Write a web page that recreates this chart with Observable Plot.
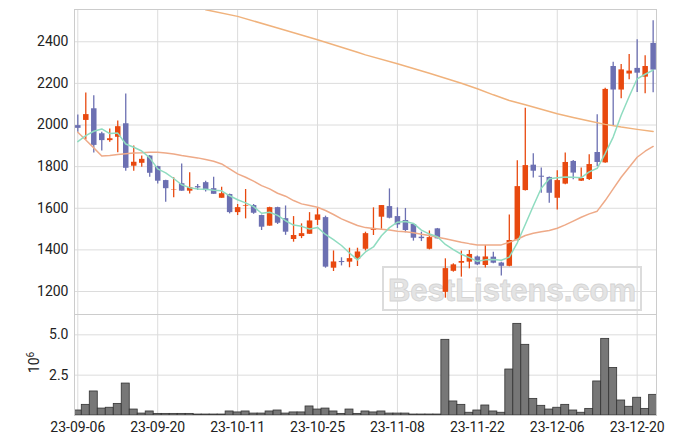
<!DOCTYPE html>
<html><head><meta charset="utf-8">
<script src="https://cdn.jsdelivr.net/npm/d3@7"></script>
<script src="https://cdn.jsdelivr.net/npm/@observablehq/plot@0.6"></script>
<style>
body{margin:0;background:#fff;}
#chart{position:relative;width:675px;height:444px;}
#chart svg{display:block;}
</style></head><body><div id="chart"></div>
<script>
// ---- data (trading-day index 0..72) ----
const open  = [1997,2022,2078,1958,1925,1941,2006,1802,1816,1851,1800,1733,1688,1718,1682,1704,1723,1694,1648,1666,1579,1610,1613,1565,1514,1603,1550,1450,1464,1475,1542,1555,1312,1344,1341,1355,1403,1494,1557,1608,1560,1541,1522,1461,1403,1501,1196,1297,1336,1341,1366,1325,1365,1337,1321,1445,1685,1807,1754,1748,1648,1716,1825,1730,1738,1868,1818,2281,2168,2245,2272,2230,2392];
const high  = [2048,2154,2141,1965,1981,2019,2149,1899,1851,1854,1802,1735,1746,1813,1770,1714,1730,1749,1701,1668,1618,1690,1618,1567,1605,1605,1611,1560,1525,1579,1598,1562,1395,1362,1408,1408,1485,1602,1613,1693,1602,1599,1525,1485,1491,1503,1357,1333,1394,1397,1371,1421,1389,1340,1568,1828,2081,1862,1794,1750,1780,1866,1830,1794,1857,2049,2177,2301,2291,2339,2410,2333,2501];
const low   = [1965,1928,1866,1875,1917,1867,1778,1778,1797,1749,1717,1629,1650,1682,1669,1685,1678,1667,1648,1573,1565,1549,1571,1493,1514,1522,1470,1437,1454,1475,1517,1312,1296,1323,1314,1320,1395,1469,1499,1549,1503,1482,1442,1440,1400,1453,1168,1293,1269,1309,1325,1313,1333,1275,1319,1443,1683,1745,1672,1624,1592,1713,1737,1728,1733,1801,1816,1993,2126,2217,2156,2150,2155];
const close = [1984,2050,1902,1925,1934,1992,1792,1821,1835,1768,1730,1694,1690,1682,1699,1698,1685,1667,1670,1579,1603,1613,1576,1509,1603,1528,1485,1469,1478,1539,1568,1317,1342,1339,1358,1390,1478,1503,1613,1552,1520,1493,1456,1454,1459,1453,1310,1328,1344,1378,1328,1366,1336,1321,1445,1704,1805,1778,1749,1672,1733,1820,1769,1743,1810,1820,2171,2168,2265,2259,2249,2281,2264];
const volumeM = [0.31,0.66,1.49,0.43,0.48,0.72,1.98,0.37,0.12,0.25,0.10,0.10,0.10,0.10,0.10,0.06,0.06,0.06,0.06,0.25,0.19,0.25,0.12,0.12,0.25,0.31,0.12,0.19,0.19,0.56,0.37,0.43,0.25,0.10,0.37,0.10,0.25,0.19,0.25,0.12,0.12,0.12,0.06,0.06,0.06,0.06,4.69,0.87,0.66,0.17,0.31,0.62,0.25,0.17,2.85,5.68,4.38,1.03,0.60,0.37,0.48,0.66,0.31,0.17,0.41,2.11,4.75,2.95,0.93,0.54,1.10,0.41,1.28];
const ma5  = [1920,1949,1970,1981,1959,1961,1909,1893,1875,1842,1789,1770,1743,1713,1699,1693,1691,1686,1684,1660,1641,1626,1608,1576,1581,1566,1540,1519,1513,1500,1508,1474,1449,1421,1385,1352,1390,1414,1468,1507,1533,1536,1527,1495,1476,1463,1426,1401,1379,1363,1345,1352,1354,1350,1365,1434,1522,1611,1696,1742,1747,1750,1749,1747,1775,1792,1863,1942,2047,2137,2222,2244,2264];
const ma20 = [1965,1928,1890,1851,1853,1858,1862,1866,1867,1869,1869,1866,1861,1854,1848,1842,1834,1826,1813,1789,1765,1749,1730,1709,1693,1672,1658,1637,1621,1613,1605,1589,1570,1549,1533,1517,1507,1503,1499,1495,1490,1487,1482,1475,1469,1461,1453,1445,1437,1430,1424,1424,1424,1424,1437,1451,1469,1480,1487,1493,1504,1520,1538,1557,1573,1586,1637,1693,1749,1797,1845,1874,1897];
const maLongIdx = [16,20,25,30,35,36,40,44,48,50,52,54,56,58,60,62,64,66,68,70,72];
const maLong    = [2554,2522,2466,2410,2350,2337,2294,2249,2201,2174,2145,2118,2097,2076,2054,2036,2019,2003,1990,1979,1969];
const tickIdx    = [0,10,20,30,40,50,60,70];
const tickLabels = ["23-09-06","23-09-20","23-10-11","23-10-25","23-11-08","23-11-22","23-12-06","23-12-20"];
const priceTicks = [1200,1400,1600,1800,2000,2200,2400];
const volTicks   = [2.5,5.0];

// ---- styling ----
const RED = "#e8490f", BLUE = "#6c70b2", GREEN = "#8fdcc0", ORANGE1 = "#eeaa88", ORANGE2 = "#f0b27c";
const GRID = "#dcdcdc", FRAME = "#cccccc";
const xDomain = [-0.413, 72.42];
const fmtX = d => tickLabels[tickIdx.indexOf(d)];
const baseStyle = "background:transparent;font-family:Roboto,sans-serif;font-size:14px;color:#222;";

const candles = open.map((o, i) => ({i, open: o, high: high[i], low: low[i], close: close[i], up: close[i] >= o}));
const ups = candles.filter(d => d.up), downs = candles.filter(d => !d.up);
const ma5d = ma5.map((v, i) => ({i, v}));
const ma20d = ma20.map((v, i) => ({i, v}));
const maLd = maLong.map((v, k) => ({i: maLongIdx[k], v}));
const bars = volumeM.map((v, i) => ({i, v}));

function watermark() {
  const g = d3.create("svg:g");
  const x0 = 383, y0 = 267, w = 258, h = 43;
  g.append("rect").attr("x", x0).attr("y", y0).attr("width", w).attr("height", h)
    .attr("fill", "none").attr("stroke", "#dcdcdc").attr("stroke-width", 2);
  g.append("text").attr("x", x0 + w / 2).attr("y", y0 + 34)
    .attr("text-anchor", "middle").attr("font-family", "'Liberation Sans',Arial,sans-serif")
    .attr("font-weight", "bold").attr("font-size", 31)
    .attr("fill", "#e4e4e4").attr("stroke", "#d4d4d4").attr("stroke-width", 0.8)
    .text("BestListens.com");
  return g.node();
}

function expLabel(index, scales, values, dims) {
  const cy = (dims.marginTop + dims.height - dims.marginBottom) / 2 - 2;
  const t = d3.create("svg:text")
    .attr("transform", `translate(39,${cy}) rotate(-90)`)
    .attr("text-anchor", "middle").attr("fill", "#222").attr("font-size", 14);
  t.append("tspan").text("10");
  t.append("tspan").attr("dy", "-0.5em").attr("font-size", 10).text("6");
  return t.node();
}

const price = Plot.plot({
  width: 675, height: 314, marginTop: 9, marginBottom: 0, marginLeft: 74, marginRight: 19,
  style: baseStyle,
  x: {domain: xDomain, axis: null},
  y: {domain: [1089.5, 2555], ticks: priceTicks, tickSize: 0, tickPadding: 6, label: null, tickFormat: d => String(d)},
  marks: [
    Plot.ruleY(priceTicks, {stroke: GRID}),
    Plot.ruleX(tickIdx, {stroke: GRID}),
    watermark,
    Plot.ruleX(ups, {x: "i", y1: "low", y2: "high", stroke: RED, strokeWidth: 1.3}),
    Plot.ruleX(downs, {x: "i", y1: "low", y2: "high", stroke: BLUE, strokeWidth: 1.3}),
    Plot.ruleX(ups, {x: "i", y1: "open", y2: "close", stroke: RED, strokeWidth: 5.5}),
    Plot.ruleX(downs, {x: "i", y1: "open", y2: "close", stroke: BLUE, strokeWidth: 5.5}),
    Plot.line(ma20d, {x: "i", y: "v", stroke: ORANGE1, strokeWidth: 1.5, clip: true}),
    Plot.line(maLd, {x: "i", y: "v", stroke: ORANGE2, strokeWidth: 1.5, clip: true}),
    Plot.line(ma5d, {x: "i", y: "v", stroke: GREEN, strokeWidth: 1.5, clip: true}),
    Plot.frame({stroke: FRAME})
  ]
});

const vol = Plot.plot({
  width: 675, height: 130, marginTop: 0, marginBottom: 29, marginLeft: 74, marginRight: 19,
  style: baseStyle,
  x: {domain: xDomain, ticks: tickIdx, tickFormat: fmtX, tickSize: 0, tickPadding: 7, label: null},
  y: {domain: [0, 6.26], ticks: volTicks, tickFormat: d => d.toFixed(1), tickSize: 0, tickPadding: 6, label: null},
  marks: [
    Plot.ruleY(volTicks, {stroke: GRID}),
    Plot.ruleX(tickIdx, {stroke: GRID}),
    Plot.rect(bars, {x1: d => d.i - 0.5, x2: d => d.i + 0.5, y1: d => 0, y2: "v", fill: "#777777", stroke: "#333333", strokeWidth: 0.8, clip: true}),
    expLabel,
    Plot.frame({stroke: FRAME})
  ]
});

const root = document.getElementById("chart");
root.append(price, vol);
</script></body></html>
